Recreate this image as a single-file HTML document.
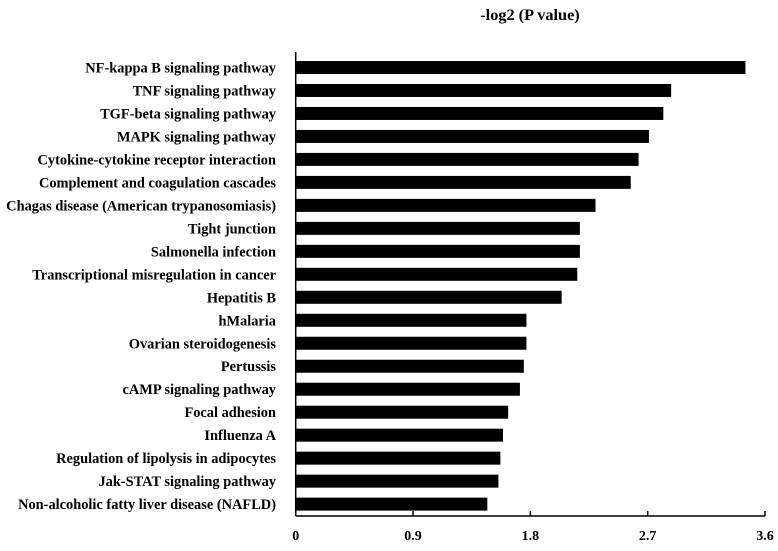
<!DOCTYPE html>
<html><head><meta charset="utf-8"><style>
body{margin:0;background:#fff}
svg text{font-family:"Liberation Serif",serif;font-weight:bold;fill:#000}
</style></head><body>
<svg id="chart" width="778" height="546">
<text x="530" y="20" font-size="16.3" text-anchor="middle">-log2 (P value)</text>
<g id="bars"></g><g id="labels"></g><g id="axis"></g>
</svg>
<script>
const categories=["NF-kappa B signaling pathway","TNF signaling pathway","TGF-beta signaling pathway","MAPK signaling pathway","Cytokine-cytokine receptor interaction","Complement and coagulation cascades","Chagas disease (American trypanosomiasis)","Tight junction","Salmonella infection","Transcriptional misregulation in cancer","Hepatitis B","hMalaria","Ovarian steroidogenesis","Pertussis","cAMP signaling pathway","Focal adhesion","Influenza A","Regulation of lipolysis in adipocytes","Jak-STAT signaling pathway","Non-alcoholic fatty liver disease (NAFLD)"];
const values=[3.45,2.88,2.82,2.71,2.63,2.57,2.30,2.18,2.18,2.16,2.04,1.77,1.77,1.75,1.72,1.63,1.59,1.57,1.555,1.47];
const ticks=[0,0.9,1.8,2.7,3.6];
const tickLabels=["0","0.9","1.8","2.7","3.6"];
const NS="http://www.w3.org/2000/svg";
const x0=295.7,x1=765,xmax=3.6;
const xs=v=>x0+(v/xmax)*(x1-x0);
const rowTop=i=>61+i*22.98;
const bh=13;
function mk(t,a){const e=document.createElementNS(NS,t);for(const k in a)e.setAttribute(k,a[k]);return e;}
const gb=document.getElementById('bars'),gl=document.getElementById('labels'),ga=document.getElementById('axis');
categories.forEach((c,i)=>{
 const r=mk('rect',{x:x0,y:rowTop(i),width:xs(values[i])-x0,height:bh,fill:'#000'});
 
 
 gb.appendChild(r);
 const t=mk('text',{x:276,y:rowTop(i)+bh/2+5,'font-size':14.4,'text-anchor':'end'});
 t.textContent=c;
 
 
 gl.appendChild(t);
});
const yl=mk('line',{x1:x0,y1:52,x2:x0,y2:516,stroke:'#000','stroke-width':1.5});


ga.appendChild(yl);
const xl=mk('line',{x1:x0,y1:516,x2:x1,y2:516,stroke:'#000','stroke-width':1.5});


ga.appendChild(xl);
ticks.forEach((v,i)=>{
 const tk=mk('line',{x1:xs(v),y1:511,x2:xs(v),y2:516,stroke:'#000','stroke-width':1.5});
 
 
 ga.appendChild(tk);
 const t=mk('text',{x:xs(v),y:540,'font-size':14,'text-anchor':'middle'});
 t.textContent=tickLabels[i];
 
 
 ga.appendChild(t);
});
</script>
</body></html>
